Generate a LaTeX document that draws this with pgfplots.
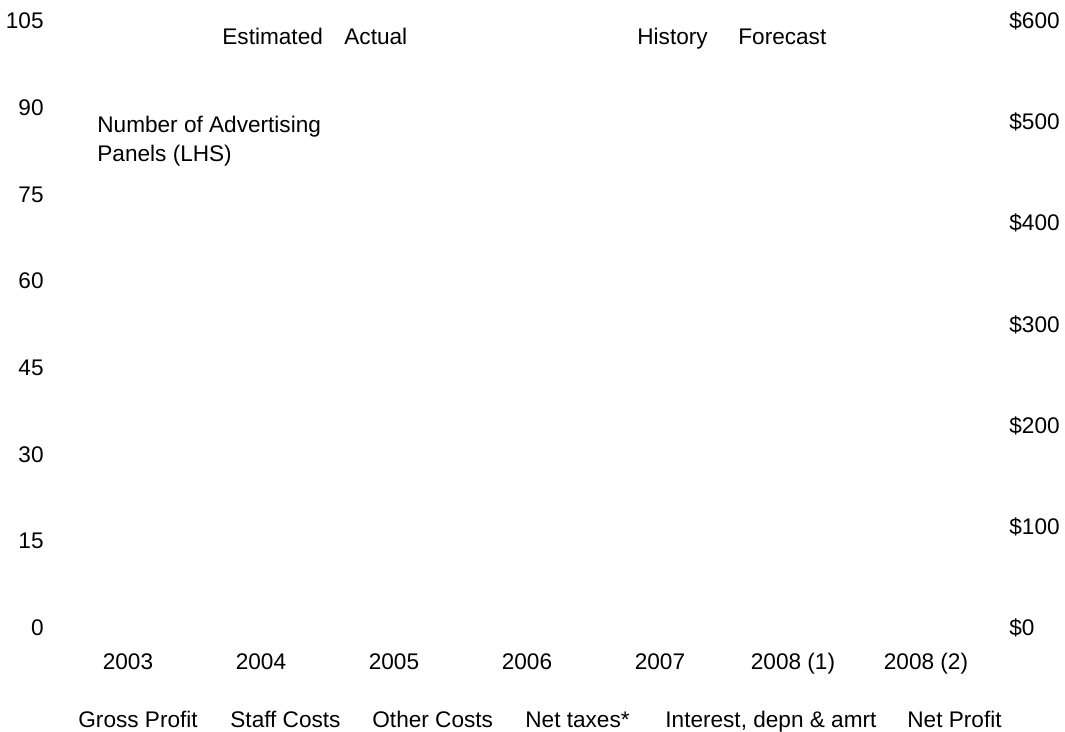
\documentclass[border=0pt]{standalone}
\usepackage{fontspec}
\setmainfont{Liberation Sans}
\usepackage{pgfplots}
\pgfplotsset{compat=1.18}

\begin{document}
\begin{tikzpicture}[font=\fontsize{11.3}{14.5}\selectfont, x=1pt, y=1pt]
\useasboundingbox (0,0) rectangle (532.5,366);

% left axis: panels, and the year categories
\begin{axis}[
    at={(30.75pt,52pt)}, anchor=south west,
    scale only axis, width=465.5pt, height=303.5pt,
    xmin=-0.5, xmax=6.5,
    ymin=0, ymax=105,
    xtick={0,1,2,3,4,5,6},
    xticklabels={2003,2004,2005,2006,2007,2008 (1),2008 (2)},
    ytick={0,15,30,45,60,75,90,105},
    axis line style={draw=none},
    tick style={draw=none},
    major tick length=0pt,
    xticklabel style={anchor=base, inner sep=0pt, yshift=-21pt},
    yticklabel style={anchor=east, inner sep=0pt, xshift=-8.75pt},
    /pgf/number format/assume math mode=true,
    clip=false,
]
\end{axis}

% right axis: dollars
\begin{axis}[
    at={(30.75pt,52pt)}, anchor=south west,
    scale only axis, width=465.5pt, height=303.5pt,
    xmin=-0.5, xmax=6.5,
    ymin=0, ymax=600,
    axis y line*=right,
    axis x line=none,
    ytick={0,100,200,300,400,500,600},
    yticklabels={\$0,\$100,\$200,\$300,\$400,\$500,\$600},
    axis line style={draw=none},
    tick style={draw=none},
    major tick length=0pt,
    yticklabel style={anchor=west, inner sep=0pt, xshift=8.25pt},
    clip=false,
]
\end{axis}

% text boxes
\node[anchor=base west, inner sep=0pt] at (111,343.5) {Estimated};
\node[anchor=base west, inner sep=0pt] at (172,343.5) {Actual};
\node[anchor=base west, inner sep=0pt] at (318.5,343.5) {History};
\node[anchor=base west, inner sep=0pt] at (369,343.5) {Forecast};
\node[anchor=base west, inner sep=0pt] at (48.5,299.5) {Number of Advertising};
\node[anchor=base west, inner sep=0pt] at (48.5,285) {Panels (LHS)};

% legend row
\node[anchor=base west, inner sep=0pt] at (39,2) {Gross Profit};
\node[anchor=base west, inner sep=0pt] at (115,2) {Staff Costs};
\node[anchor=base west, inner sep=0pt] at (186,2) {Other Costs};
\node[anchor=base west, inner sep=0pt] at (262.5,2) {Net taxes*};
\node[anchor=base west, inner sep=0pt] at (332.5,2) {Interest, depn \& amrt};
\node[anchor=base west, inner sep=0pt] at (453.5,2) {Net Profit};
\end{tikzpicture}
\end{document}
